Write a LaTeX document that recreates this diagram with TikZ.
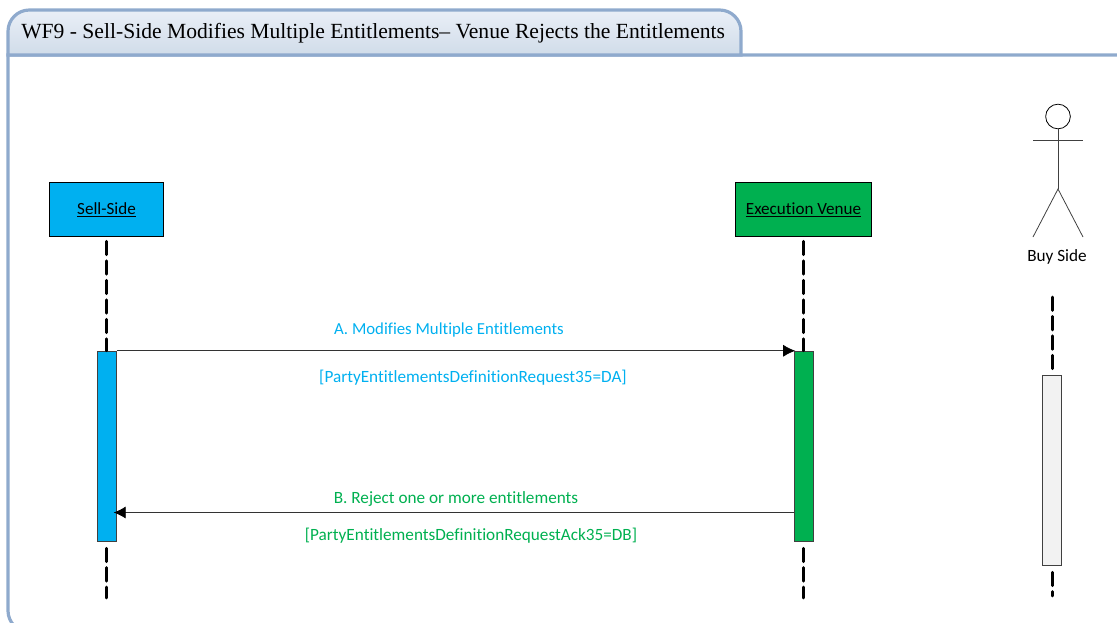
\documentclass[tikz,border=0pt]{standalone}
\usepackage{fontspec}
\setmainfont[Ligatures=NoCommon]{Carlito}
\newfontfamily\titlefont{Liberation Serif}
\usetikzlibrary{arrows.meta}
\definecolor{sellblue}{HTML}{00B0F0}
\definecolor{venuegreen}{HTML}{00B050}
\definecolor{framblue}{HTML}{8FAACD}
\definecolor{tabtop}{HTML}{EAEFF7}
\definecolor{tabbot}{HTML}{D0DCE9}
\definecolor{barwhite}{HTML}{F2F2F2}
\tikzset{
	party/.style={draw=black,line width=0.6pt,minimum height=40.5pt,inner sep=0pt,text=black,text height=11.5pt,text depth=3pt,font=\fontsize{12.8}{14}\selectfont},
	bar/.style={draw=black!75,line width=0.6pt,minimum width=14.6pt,inner sep=0pt},
	lifeline/.style={line width=2.2pt,line cap=round,dash pattern=on 10pt off 4.6pt},
	msg/.style={draw=black!80,line width=0.6pt,shorten >=-1pt,-{Latex[length=9pt,width=9pt,black]}},
	lbl/.style={inner sep=0pt,font=\fontsize{12.9}{14}\selectfont},
	stick/.style={draw=black!75,line width=0.6pt}
}
\begin{document}
\begin{tikzpicture}[x=0.75pt,y=-0.75pt]
		\useasboundingbox (0,0) rectangle (1117,622);
		\clip (0,0) rectangle (1117,622);
		% frame and tab
		\draw[framblue,line width=2.4pt] (1130,55)--(8,55)[rounded corners=16pt]--(8,632)--(1130,632);
		\draw[framblue,line width=2.4pt,top color=tabtop,bottom color=tabbot] (8,55)[rounded corners=16pt]--(8,10)--(741,10)[sharp corners]--(741,55)--cycle;
		\node[anchor=west,inner sep=0pt,font=\titlefont\fontsize{16.2}{18}\selectfont] (title) at (21,33.5) {WF9 - Sell-Side Modifies Multiple Entitlements– Venue Rejects the Entitlements};
		% parties
		\node[party,fill=sellblue,minimum width=86pt] (sell) at (106.5,209) {\underline{Sell-Side}};
		\node[party,fill=venuegreen,minimum width=102.5pt] (venue) at (803.5,209) {\underline{Execution Venue}};
		% activation bars
		\node[bar,fill=sellblue,minimum height=143pt] (sellbar) at (107,446.5) {};
		\node[bar,fill=venuegreen,minimum height=143pt] (venuebar) at (804,446.5) {};
		\node[bar,fill=barwhite,minimum height=143pt] (buybar) at (1052,470.5) {};
		% actor
		\node[draw=black,line width=0.6pt,circle,minimum size=18.5pt,inner sep=0pt] (head) at (1058,116.5) {};
		\coordinate (hip) at (1058,189);
		\coordinate (armleft) at (1033,140.5);
		\coordinate (armright) at (1083,140.5);
		\coordinate (footleft) at (1033,237);
		\coordinate (footright) at (1083,237);
		\draw[stick] (head)--(hip);
		\draw[stick] (armleft)--(armright);
		\draw[stick] (footleft)--(hip)--(footright);
		\node[lbl] (buy) at (1057,256.5) {Buy Side};
		% lifelines
		\coordinate (sellend) at (106.5,598);
		\coordinate (venueend) at (803.5,598);
		\coordinate (buytop) at (1052.5,297);
		\coordinate (buyend) at (1052.5,596);
		\draw[lifeline] (sell.south)++(0,5)--(sellbar.north -| sell);
		\draw[lifeline] (sellbar.south -| sell)++(0,6)--(sellend);
		\draw[lifeline] (venue.south)++(0,5)--(venuebar.north -| venue);
		\draw[lifeline] (venuebar.south -| venue)++(0,6)--(venueend);
		\draw[lifeline] (buytop)--(buybar.north -| buytop);
		\draw[lifeline] (buybar.south -| buytop)++(0,6)--(buyend);
		% messages
		\coordinate (rejectstart) at (794,512.5);
		\coordinate (rejectend) at (115,512.5);
		\draw[msg] (sellbar.north east)--(venuebar.north west);
		\draw[msg] (rejectstart)--(rejectend);
		\node[lbl,text=sellblue,font=\fontsize{12.6}{14}\selectfont] (modlabel) at (449,330) {A. Modifies Multiple Entitlements};
		\node[lbl,text=sellblue] (modtag) at (473,378) {[PartyEntitlementsDefinitionRequest35=DA]};
		\node[lbl,text=venuegreen] (rejlabel) at (456,499) {B. Reject one or more entitlements};
		\node[lbl,text=venuegreen] (rejtag) at (471,536) {[PartyEntitlementsDefinitionRequestAck35=DB]};
		\end{tikzpicture}
\end{document}
